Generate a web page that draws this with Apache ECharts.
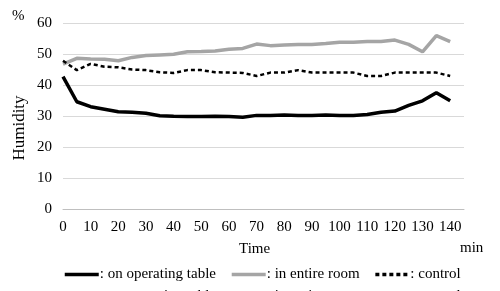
<!DOCTYPE html>
<html>
<head>
<meta charset="utf-8">
<script src="https://cdn.jsdelivr.net/npm/echarts@6/dist/echarts.min.js"></script>
<style>
  html, body { margin: 0; padding: 0; background: #fff; }
  #chart { width: 500px; height: 291px; }
</style>
</head>
<body>
<div id="chart"></div>
<script>
// time in minutes, every 5 min
var times = [0, 5, 10, 15, 20, 25, 30, 35, 40, 45, 50, 55, 60, 65, 70,
  75, 80, 85, 90, 95, 100, 105, 110, 115, 120, 125, 130, 135, 140];
var onTable = [42.7, 34.6, 33.0, 32.2, 31.4, 31.2, 30.9, 30.1, 29.9, 29.8, 29.8, 29.9, 29.8, 29.6, 30.2,
  30.2, 30.3, 30.2, 30.2, 30.3, 30.2, 30.2, 30.5, 31.2, 31.6, 33.4, 34.9, 37.5, 34.9];
var entireRoom = [46.7, 48.6, 48.4, 48.3, 47.8, 48.9, 49.5, 49.7, 49.9, 50.7, 50.8, 51.0, 51.5, 51.8, 53.2,
  52.7, 52.9, 53.1, 53.1, 53.4, 53.8, 53.8, 54.0, 54.0, 54.5, 53.1, 50.7, 55.9, 54.0];
var control = [47.8, 44.8, 46.8, 45.9, 45.7, 45.0, 44.8, 44.1, 43.9, 44.8, 44.8, 44.1, 44.0, 43.9, 42.9,
  44.0, 44.0, 44.8, 44.0, 44.0, 44.0, 44.0, 42.9, 42.9, 44.0, 44.0, 44.0, 44.0, 42.9];
var seriesNames = ['on operating table', 'in entire room', 'control'];

function pairs(vals) {
  return vals.map(function(v, i) { return [times[i], v]; });
}

var font = '"Liberation Serif", "DejaVu Serif", serif';
var ink = '#000000';
var gray = '#a5a5a5';
var rule = '#d9d9d9';

var legendBase = {
  left: 58,
  itemWidth: 34,
  itemHeight: 12,
  itemGap: 14,
  data: seriesNames,
  formatter: ': {name}',
  itemStyle: { opacity: 0 },
  lineStyle: { width: 3.5 },
  textStyle: { color: ink, fontSize: 15, fontFamily: font, padding: [0, 0, 0, -4] }
};

var chart = echarts.init(document.getElementById('chart'), null, { renderer: 'canvas' });
chart.setOption({
  animation: false,
  backgroundColor: '#ffffff',
  grid: { left: 63, right: 36, top: 23, bottom: 82 },
  legend: [
    Object.assign({ top: 262 }, legendBase),
    Object.assign({ top: 284 }, legendBase)
  ],
  xAxis: {
    type: 'value',
    min: 0,
    max: 145,
    interval: 10,
    axisLine: { lineStyle: { color: '#bfbfbf', width: 1 } },
    axisTick: { show: false },
    splitLine: { show: false },
    axisLabel: {
      color: ink, fontSize: 15, fontFamily: font, margin: 11,
      showMaxLabel: false
    }
  },
  yAxis: {
    type: 'value',
    min: 0,
    max: 60,
    interval: 10,
    axisLine: { show: false },
    axisTick: { show: false },
    splitLine: { lineStyle: { color: rule, width: 1 } },
    axisLabel: { color: ink, fontSize: 15, fontFamily: font, margin: 11 }
  },
  graphic: [
    { type: 'text', left: 12, top: 9, style: { text: '%', fill: ink, font: '15px ' + font } },
    { type: 'text', left: 239, top: 242, style: { text: 'Time', fill: ink, font: '15px ' + font } },
    { type: 'text', left: 460, top: 241, style: { text: 'min', fill: ink, font: '15px ' + font } },
    {
      type: 'text', x: 11, y: 128, rotation: Math.PI / 2,
      style: { text: 'Humidity', fill: ink, font: '17px ' + font, align: 'center', verticalAlign: 'top' }
    }
  ],
  series: [
    {
      name: seriesNames[0], type: 'line', data: pairs(onTable),
      symbol: 'none', z: 3,
      lineStyle: { color: ink, width: 3.5 },
      itemStyle: { color: ink }
    },
    {
      name: seriesNames[1], type: 'line', data: pairs(entireRoom),
      symbol: 'none', z: 2,
      lineStyle: { color: gray, width: 3.5 },
      itemStyle: { color: gray }
    },
    {
      name: seriesNames[2], type: 'line', data: pairs(control),
      symbol: 'none', z: 2,
      lineStyle: { color: ink, width: 2.5, type: [4, 3] },
      itemStyle: { color: ink }
    }
  ]
});
</script>
</body>
</html>
